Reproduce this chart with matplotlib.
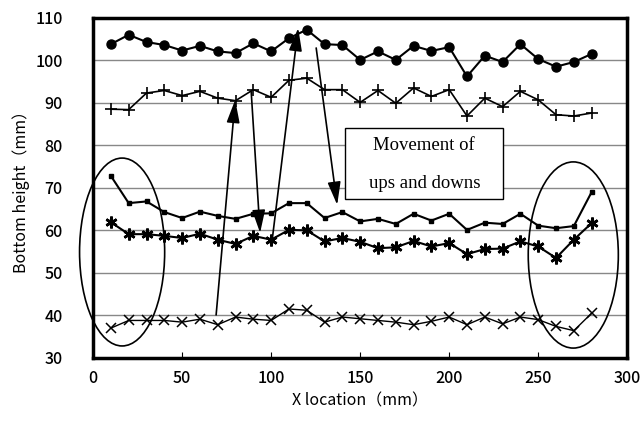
import matplotlib
matplotlib.use("Agg")
import matplotlib.pyplot as plt
from matplotlib.patches import Ellipse, Rectangle

# X positions (mm)
x_loc = [10, 20, 30, 40, 50, 60, 70, 80, 90, 100, 110, 120, 130, 140,
         150, 160, 170, 180, 190, 200, 210, 220, 230, 240, 250, 260, 270, 280]

# Bottom heights (mm)
circle_vals = [103.8, 106.0, 104.3, 103.6, 102.3, 103.4, 102.1, 101.7, 104.0, 102.1,
               105.2, 107.2, 103.8, 103.6, 100.1, 102.1, 100.1, 103.4, 102.2, 103.1,
               96.2, 101.1, 99.6, 103.8, 100.3, 98.5, 99.6, 101.5]
plus_vals = [88.5, 88.4, 92.3, 92.9, 91.7, 92.7, 91.1, 90.5, 93.1, 91.3,
             95.3, 95.8, 93.1, 93.1, 90.1, 92.9, 89.9, 93.5, 91.5, 93.1,
             86.9, 91.1, 89.1, 92.7, 90.7, 87.2, 86.9, 87.6]
square_vals = [72.8, 66.4, 66.8, 64.3, 62.9, 64.4, 63.4, 62.7, 63.9, 64.0,
               66.4, 66.4, 62.9, 64.3, 62.1, 62.7, 61.5, 63.9, 62.3, 63.9,
               60.1, 61.8, 61.5, 63.9, 61.1, 60.5, 61.0, 69.0]
star_vals = [61.9, 59.1, 59.1, 58.7, 58.2, 59.2, 57.8, 56.8, 58.7, 57.8,
             60.1, 60.0, 57.4, 58.2, 57.3, 55.8, 56.0, 57.5, 56.2, 57.0,
             54.4, 55.6, 55.7, 57.4, 56.2, 53.5, 57.8, 61.7]
cross_vals = [37.0, 38.8, 38.8, 38.8, 38.4, 39.1, 37.8, 39.6, 39.1, 38.8,
              41.5, 41.2, 38.4, 39.6, 39.2, 38.8, 38.4, 37.8, 38.6, 39.6,
              37.8, 39.6, 38.0, 39.6, 39.0, 37.4, 36.4, 40.5]

x_ticks = [0, 50, 100, 150, 200, 250, 300]
y_ticks = [30, 40, 50, 60, 70, 80, 90, 100, 110]

label_font = ["Noto Sans CJK JP", "DejaVu Sans"]

fig = plt.figure(figsize=(6.42, 4.24), dpi=100)
ax = fig.add_axes([0.145, 0.156, 0.832, 0.802])

ax.plot(x_loc, circle_vals, color="black", lw=1.5, marker="o", ms=6.5, zorder=3)
ax.plot(x_loc, plus_vals, color="black", lw=1.2, marker="+", ms=8, mew=1.2, zorder=3)
ax.plot(x_loc, square_vals, color="black", lw=1.5, marker="s", ms=3.5, zorder=3)
ax.plot(x_loc, star_vals, color="black", lw=1.5, marker=(6, 2, 0), ms=8.5, mew=1.9, zorder=3)
ax.plot(x_loc, cross_vals, color="black", lw=1.0, marker="x", ms=6.5, mew=1.1, zorder=3)

ax.set_xlim(0, 300)
ax.set_ylim(30, 110)
ax.set_xticks(x_ticks)
ax.set_yticks(y_ticks)
ax.tick_params(axis="x", direction="in", length=4, pad=9, labelsize=11.5)
ax.tick_params(axis="y", length=0, pad=22, labelsize=11.5)
for lab in ax.get_xticklabels() + ax.get_yticklabels():
    lab.set_family(label_font)
    lab.set_weight("medium")
ax.yaxis.grid(True, color="#888888", lw=1.0)
ax.set_axisbelow(True)
for sp in ax.spines.values():
    sp.set_linewidth(2.5)

ax.set_xlabel("X location（mm）", fontsize=11.5, family=label_font, labelpad=4)
ax.set_ylabel("Bottom height（mm）", fontsize=11.5, family=label_font, labelpad=4)

# ellipses marking the edges
ax.add_patch(Ellipse((16.3, 54.9), 47.8, 44.2, fill=False, color="black",
                     lw=1.2, clip_on=False, zorder=4))
ax.add_patch(Ellipse((269.7, 54.2), 50.6, 43.8, fill=False, color="black",
                     lw=1.2, clip_on=False, zorder=4))

# arrows
arrows = [((69.1, 40.1), (79.8, 90.7)),
          ((88.8, 92.6), (93.8, 59.4)),
          ((100.6, 57.8), (115.2, 107.6)),
          ((125.3, 102.9), (137.1, 66.0))]
for start, tip in arrows:
    ax.annotate("", xy=tip, xytext=start,
                arrowprops=dict(arrowstyle="-|>,head_length=1.4,head_width=0.4",
                                color="black", lw=1.2, shrinkA=0, shrinkB=0),
                zorder=5)

# text box
ax.add_patch(Rectangle((141.6, 67.4), 88.7, 16.7, facecolor="white",
                       edgecolor="black", lw=1.0, zorder=5))
ax.text(186, 80.0, "Movement of", ha="center", va="center", fontsize=13.5,
        family="Liberation Serif", zorder=6)
ax.text(186, 71.0, "ups and downs", ha="center", va="center", fontsize=13.5,
        family="Liberation Serif", zorder=6)

fig.savefig("out.png", dpi=100)
